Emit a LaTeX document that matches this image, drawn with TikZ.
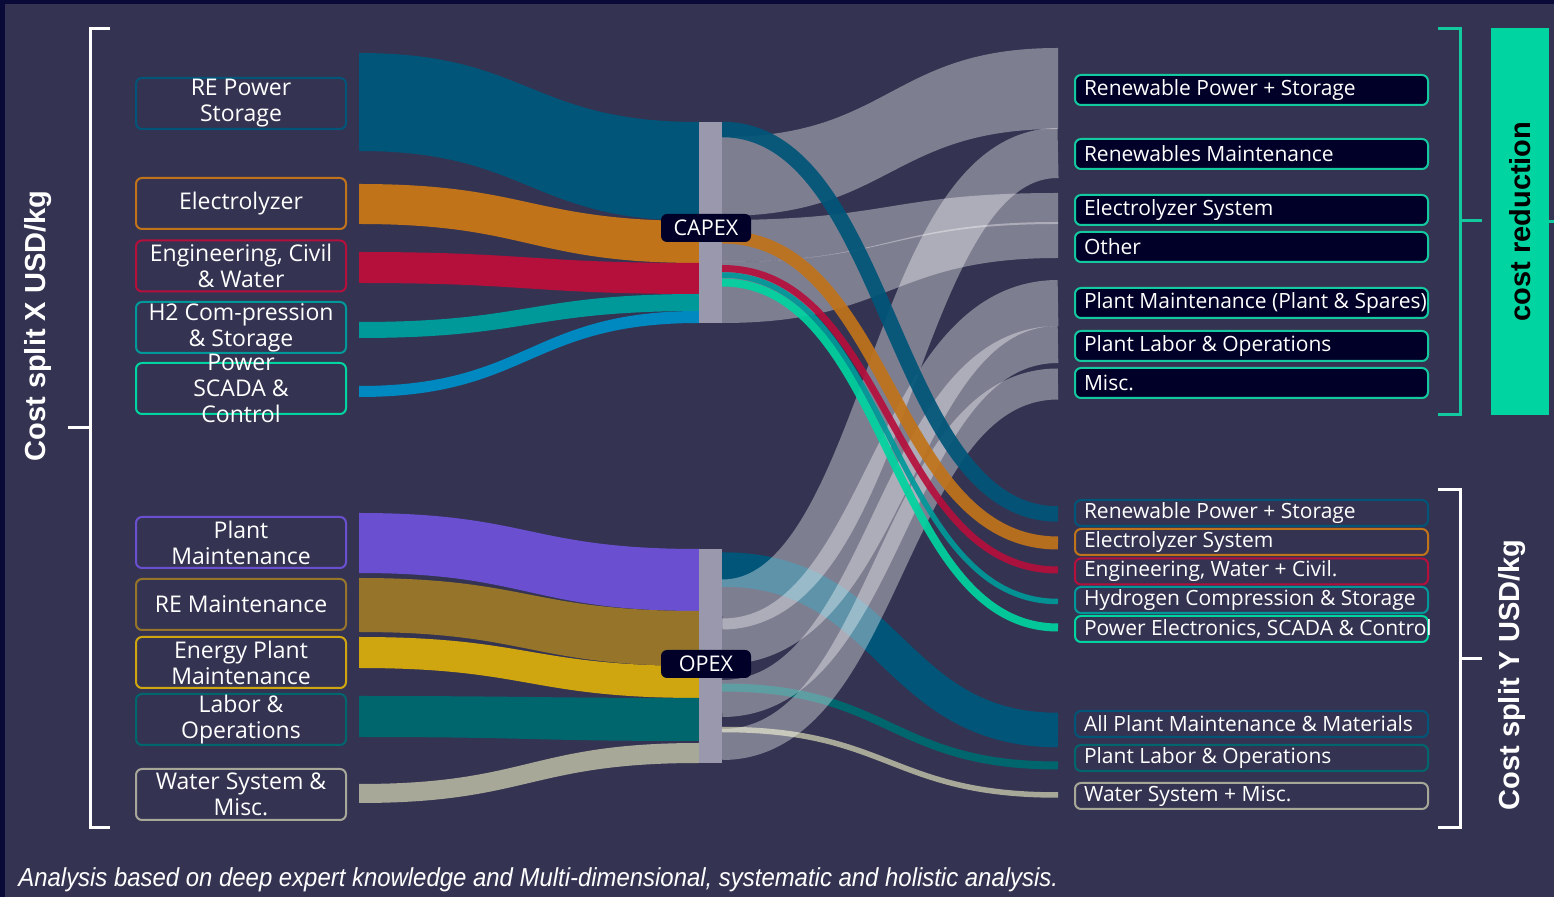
\documentclass[tikz,border=0pt]{standalone}
\usepackage{fontspec}
\setmainfont{Open Sans}
\newfontfamily\headfont{Liberation Sans}
\usepackage{graphicx}
\usepackage{xcolor}
\definecolor{bgnavy}{HTML}{343452}
\definecolor{framenavy}{HTML}{0A0A38}
\definecolor{tagnavy}{HTML}{000028}
\definecolor{barlilac}{HTML}{9A98AC}
\definecolor{reblue}{HTML}{005578}
\definecolor{elorange}{HTML}{C07319}
\definecolor{crimson}{HTML}{B50F3C}
\definecolor{hteal}{HTML}{00999A}
\definecolor{skyblue}{HTML}{0088C0}
\definecolor{mint}{HTML}{00D4A0}
\definecolor{mintline}{HTML}{12C9A0}
\definecolor{violet}{HTML}{6A50D0}
\definecolor{bronze}{HTML}{96752A}
\definecolor{gold}{HTML}{D0A610}
\definecolor{deepteal}{HTML}{00666E}
\definecolor{khaki}{HTML}{A8A898}
\usetikzlibrary{positioning}

% ribbon: options, x left, top, bottom, x right, top, bottom
\newcommand{\sankeyband}[7]{%
  \fill[#1] (#2,#3) .. controls ({(#2+#5)/2},#3) and ({(#2+#5)/2},#6) .. (#5,#6)
    -- (#5,#7) .. controls ({(#2+#5)/2},#7) and ({(#2+#5)/2},#4) .. (#2,#4) -- cycle;}
% link: options, x left, y left, x right, y right
\newcommand{\sankeylink}[5]{%
  \draw[#1] (#2,#3) .. controls ({(#2+#4)/2},#3) and ({(#2+#4)/2},#5) .. (#4,#5);}

\tikzset{
  srcbox/.style={draw, rounded corners=3pt, line width=1pt, minimum width=105pt,
    minimum height=25.5pt, inner ysep=0pt, align=center, text=white,
    font=\fontsize{11.5}{13}\selectfont},
  tgtbox/.style={draw=mintline, fill=tagnavy, rounded corners=3pt, line width=1pt,
    minimum width=176.5pt, minimum height=15pt, inner xsep=4.5pt, inner ysep=0pt,
    text=white, font=\fontsize{10.5}{12}\selectfont},
  splitbox/.style={tgtbox, fill=none, minimum height=13pt},
  costtag/.style={fill=tagnavy, rounded corners=3pt, minimum width=45pt,
    minimum height=14pt, inner sep=0pt, text=white, font=\fontsize{10.8}{12}\selectfont},
  grey flow/.style={fill=white, fill opacity=0.37},
  grey link/.style={draw=white, draw opacity=0.37},
  bracket/.style={line width=1.5pt},
  axis title/.style={rotate=90, font=\headfont\bfseries\fontsize{14.5}{16}\selectfont}
}

\begin{document}
\begin{tikzpicture}[x=0.5pt, y=-0.5pt]
  \useasboundingbox (0,0) rectangle (1554,897);
  % Background
  \fill[framenavy] (0,0) rectangle (1554,897);
  \fill[bgnavy] (5,4) rectangle (1554,897);

  % Cost items into CAPEX and OPEX
  \foreach \col/\ytop/\ybot/\ztop/\zbot in {reblue/53/151/122/221, elorange/184/224/221/263,
      crimson/252/283/263/294, hteal/322/338/294/311, skyblue/386/397/311/323,
      violet/513/573/549/611, bronze/578/632/611/666, gold/637/668/666/698,
      deepteal/696/737/698/741, khaki/784/803/743/763}
    {\sankeyband{fill=\col}{359}{\ytop}{\ybot}{699}{\ztop}{\zbot}}

  % OPEX breakdown (under the grey flows)
  \foreach \col/\w/\ya/\yb in {reblue/34.5/569.5/730, deepteal/8/687.5/765.5, khaki/5.5/729.5/795}
    {\sankeylink{draw=\col, line width=\w*0.5pt}{722}{\ya}{1058}{\yb}}

  % Grey flows to the cost reduction levers
  \foreach \ytop/\ybot/\ztop/\zbot in {137/216/48/129, 220/262/193/224, 262/323/222/258}
    {\sankeyband{grey flow}{722}{\ytop}{\ybot}{1058}{\ztop}{\zbot}}
  \foreach \w/\ya/\yb in {50/604.5/153, 46/641.5/303, 37/698.5/344.5, 31/744.5/384}
    {\sankeylink{grey link, line width=\w*0.5pt}{722}{\ya}{1058}{\yb}}

  % CAPEX breakdown
  \foreach \col/\w/\ya/\yb in {elorange/13/237/543, crimson/7/268.5/570, hteal/5.5/275/601.5,
      mint/8/282.5/627.5, reblue/15.5/129.5/514}
    {\sankeylink{draw=\col, draw opacity=0.92, line width=\w*0.5pt}{722}{\ya}{1058}{\yb}}

  % CAPEX and OPEX bars
  \fill[barlilac] (699,122) rectangle (722,323);
  \fill[barlilac] (699,549) rectangle (722,763);
  \node[costtag] (capex) at (706,228) {CAPEX};
  \node[costtag] (opex) at (706,664) {OPEX};

  % Cost split X
  \node[srcbox, draw=reblue] (srcre) at (241,103.5) {RE Power\\Storage};
  \node[srcbox, draw=elorange] (srcel) at (241,203.5) {Electrolyzer};
  \node[srcbox, draw=crimson] (srceng) at (241,266) {Engineering, Civil\\\& Water};
  \node[srcbox, draw=hteal] (srch2) at (241,327.5) {H2 Com-pression\\\& Storage};
  \node[srcbox, draw=mint] (srcpe) at (241,388.5) {};
  \node[srcbox, draw=none] at (srcpe) {Power\\SCADA \&\\Control};
  \node[srcbox, draw=violet] (srcpm) at (241,542.5) {Plant\\Maintenance};
  \node[srcbox, draw=bronze] (srcrem) at (241,604.5) {RE Maintenance};
  \node[srcbox, draw=gold] (srcep) at (241,662.5) {Energy Plant\\Maintenance};
  \node[srcbox, draw=deepteal] (srclab) at (241,719.5) {Labor \&\\Operations};
  \node[srcbox, draw=khaki] (srcws) at (241,794.5) {Water System \&\\Misc.};

  % Cost reduction levers
  \foreach \i/\y/\txt in {1/90/Renewable Power + Storage, 2/154/Renewables Maintenance,
      3/210/Electrolyzer System, 4/247/Other, 5/303/Plant Maintenance (Plant \& Spares),
      6/346/Plant Labor \& Operations, 7/383/Misc.}
    \node[tgtbox] (lever\i) at (1251.5,\y) {\makebox[167.5pt][l]{\txt}};

  % Cost split Y
  \foreach \i/\col/\y/\txt in {1/reblue/513/Renewable Power + Storage,
      2/elorange/542/Electrolyzer System, 3/crimson/571.5/{Engineering, Water + Civil.},
      4/hteal/600/Hydrogen Compression \& Storage,
      5/mint/629/{Power Electronics, SCADA \& Control},
      6/reblue/724/All Plant Maintenance \& Materials, 7/deepteal/758/Plant Labor \& Operations,
      8/khaki/796/Water System + Misc.}
    \node[splitbox, draw=\col] (split\i) at (1251.5,\y) {\makebox[167.5pt][l]{\txt}};

  % Brackets
  \draw[white, bracket] (110,29) -- (90,29) -- (90,828) -- (110,828);
  \draw[white, bracket] (68,428) -- (90,428);
  \node[axis title, text=white] (splitx) at (38,326) {Cost split X USD/kg};

  \draw[mintline, bracket] (1438,29) -- (1460,29) -- (1460,415) -- (1438,415);
  \draw[mintline, bracket] (1460,221) -- (1482,221);
  \node[axis title, fill=mint, minimum width=193.5pt, minimum height=29pt, inner sep=0pt,
    text=black] (reduction) at (1520,221.5) {cost reduction};
  \draw[mintline, bracket] (reduction.south) -- ++(6,0);

  \draw[white, bracket] (1438,490) -- (1460,490) -- (1460,828) -- (1438,828);
  \draw[white, bracket] (1460,659) -- (1482,659);
  \node[axis title, text=white] (splity) at (1512,675) {Cost split Y USD/kg};

  % Footnote
  \node[anchor=base west, inner sep=0pt, text=white,
    font=\headfont\itshape\fontsize{13}{15}\selectfont] (note) at (18,886)
    {\scalebox{0.92}[1]{Analysis based on deep expert knowledge and Multi-dimensional, systematic and holistic analysis.}};
\end{tikzpicture}
\end{document}
